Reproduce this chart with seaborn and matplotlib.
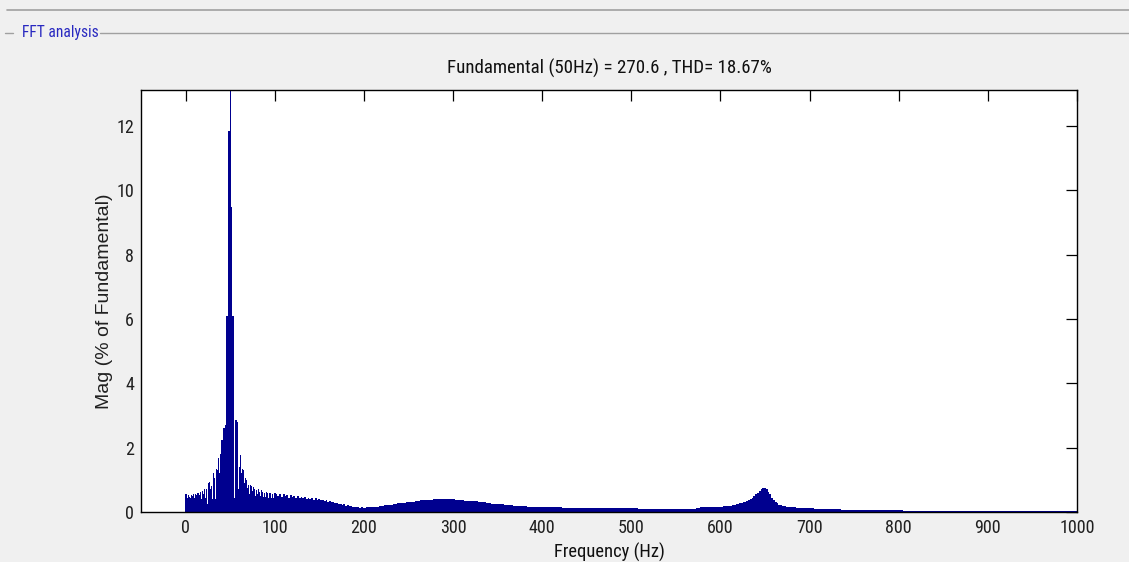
import numpy as np
import pandas as pd
import matplotlib
matplotlib.use("Agg")
import matplotlib.pyplot as plt
from matplotlib.lines import Line2D
from matplotlib import font_manager as fm
import seaborn as sns

# ---------------- data ----------------
# 0-100 Hz, 1 Hz resolution
freq_low = list(range(0, 101))
mag_low = [0.55, 0.56, 0.45, 0.52, 0.47, 0.50, 0.42, 0.52, 0.50, 0.56,
           0.45, 0.55, 0.52, 0.58, 0.50, 0.60, 0.52, 0.62, 0.40, 0.65,
           0.55, 0.70, 0.45, 0.72, 0.62, 0.25, 0.90, 0.94, 0.70, 0.80,
           0.40, 1.20, 1.05, 1.15, 0.40, 1.35, 1.30, 1.67, 1.20, 1.80,
           2.24, 2.24, 2.83, 2.60, 2.62, 2.70, 6.10, 6.10, 11.86, 11.86,
           100.0, 9.48, 9.48, 6.10, 6.10, 0.45, 2.86, 2.86, 2.80, 0.70,
           1.40, 1.77, 1.77, 1.20, 1.35, 1.30, 0.90, 1.05, 1.00, 0.75,
           0.90, 0.85, 0.55, 0.85, 0.80, 0.65, 0.78, 0.70, 0.50, 0.75,
           0.68, 0.55, 0.72, 0.62, 0.50, 0.68, 0.62, 0.48, 0.65, 0.60,
           0.48, 0.62, 0.58, 0.45, 0.60, 0.58, 0.45, 0.58, 0.55, 0.45,
           0.58]

# 102-200 Hz, 2 Hz resolution
freq_mid = list(range(102, 201, 2))
mag_mid = [0.55, 0.50, 0.56, 0.48, 0.55, 0.50, 0.52, 0.45, 0.52, 0.48,
           0.50, 0.45, 0.50, 0.44, 0.48, 0.42, 0.46, 0.40, 0.44, 0.40,
           0.43, 0.38, 0.42, 0.36, 0.40, 0.36, 0.38, 0.33, 0.36, 0.32,
           0.34, 0.30, 0.31, 0.28, 0.29, 0.25, 0.26, 0.23, 0.24, 0.20,
           0.21, 0.18, 0.19, 0.16, 0.17, 0.14, 0.15, 0.13, 0.14, 0.12]

# 205-620 Hz, 5 Hz resolution
freq_hi = list(range(205, 621, 5))
mag_hi = [0.14, 0.16, 0.17, 0.19, 0.21, 0.23, 0.25, 0.27, 0.29, 0.31,
          0.32, 0.34, 0.36, 0.37, 0.38, 0.39, 0.40, 0.40, 0.39, 0.39,
          0.38, 0.37, 0.35, 0.34, 0.33, 0.31, 0.30, 0.28, 0.26, 0.25,
          0.24, 0.22, 0.21, 0.20, 0.19, 0.18, 0.17, 0.16, 0.16, 0.15,
          0.15, 0.14, 0.14, 0.14, 0.13, 0.13, 0.13, 0.13, 0.12, 0.12,
          0.12, 0.12, 0.12, 0.12, 0.11, 0.11, 0.11, 0.11, 0.11, 0.11,
          0.11, 0.10, 0.10, 0.10, 0.09, 0.09, 0.09, 0.09, 0.09, 0.09,
          0.09, 0.09, 0.09, 0.10, 0.12, 0.14, 0.14, 0.15, 0.15, 0.17,
          0.18, 0.20, 0.22, 0.25]

# 622-680 Hz, 2 Hz resolution (13th harmonic bump)
freq_bump = list(range(622, 681, 2))
mag_bump = [0.27, 0.28, 0.30, 0.32, 0.34, 0.37, 0.40, 0.45, 0.50, 0.55,
            0.60, 0.66, 0.72, 0.75, 0.75, 0.72, 0.62, 0.55, 0.45, 0.38,
            0.32, 0.27, 0.23, 0.21, 0.19, 0.18, 0.17, 0.16, 0.15, 0.14]

# 690-1000 Hz, 10 Hz resolution
freq_tail = list(range(690, 1001, 10))
mag_tail = [0.13, 0.12, 0.09, 0.08, 0.08, 0.07, 0.07, 0.07, 0.07, 0.07,
            0.07, 0.07, 0.03, 0.02, 0.02, 0.02, 0.02, 0.02, 0.02, 0.02,
            0.02, 0.02, 0.02, 0.02, 0.02, 0.02, 0.02, 0.02, 0.02, 0.02,
            0.02, 0.02]

title_text = "Fundamental (50Hz) = 270.6 , THD= 18.67%"
x_ticks = [0, 100, 200, 300, 400, 500, 600, 700, 800, 900, 1000]
y_ticks = [0, 2, 4, 6, 8, 10, 12]

# ---------------- build ----------------
freq = np.array(freq_low + freq_mid + freq_hi + freq_bump + freq_tail, dtype=float)
mag = np.array(mag_low + mag_mid + mag_hi + mag_bump + mag_tail, dtype=float)
df = pd.DataFrame({"freq": freq, "mag": mag})
mids = (freq[:-1] + freq[1:]) / 2
edges = [float(e) for e in np.concatenate([[freq[0] - 0.5], mids, [freq[-1]]])]

sns.set_style("white")

# choose a narrow font if one is available
cond_files = [f for f in fm.fontManager.ttflist
              if ('Condensed' in f.fname or 'Narrow' in f.fname) and 'Bold' not in f.fname
              and 'Oblique' not in f.fname and 'Italic' not in f.fname]
FONT_PROPS = None
for pref in ['LiberationSansNarrow-Regular', 'RobotoCondensed-Regular', 'DejaVuSansCondensed.ttf']:
    hit = [f for f in cond_files if pref in f.fname]
    if hit:
        FONT_PROPS = hit[0].fname
        break

plt.rcParams['font.family'] = ['Liberation Sans', 'DejaVu Sans']


def fp(size):
    if FONT_PROPS:
        return fm.FontProperties(fname=FONT_PROPS, size=size)
    return fm.FontProperties(family=['Liberation Sans', 'DejaVu Sans'], size=size * 0.85)


BG = '#F0F0F0'
BAR = '#00008F'

fig = plt.figure(figsize=(11.29, 5.62), dpi=100, facecolor=BG)
W, H = 1129, 562
ax = fig.add_axes([141 / W, 1 - 512 / H, (1077 - 141) / W, (512 - 90) / H])
ax.set_facecolor('white')

sns.histplot(data=df, x="freq", weights="mag", bins=edges, ax=ax, color=BAR,
             alpha=1.0, element='bars', fill=True, linewidth=0, edgecolor=BAR)

ax.set_xlim(-50, 1000)
ax.set_ylim(0, 13.12)
ax.set_xticks(x_ticks)
ax.set_yticks(y_ticks)
ax.tick_params(direction='in', length=8, width=0.9, color='black',
               top=True, right=True, pad=5, labelcolor='#202020')
for lab in ax.get_xticklabels() + ax.get_yticklabels():
    lab.set_fontproperties(fp(13))
for s in ax.spines.values():
    s.set_visible(True)
    s.set_color('black')
    s.set_linewidth(1.0)
ax.grid(False)

ax.set_title(title_text, fontproperties=fp(13.6), pad=12, color='#101010')
ax.set_xlabel("Frequency (Hz)", fontproperties=fp(13.3), labelpad=4, color='#101010')
ax.set_ylabel("Mag (% of Fundamental)",
              fontproperties=fm.FontProperties(family=['Liberation Sans', 'DejaVu Sans'], size=14),
              labelpad=2, color='#202020')

# panel frame of the GUI
fig.add_artist(Line2D([7 / W, 1], [1 - 10 / H, 1 - 10 / H], color='#A0A0A0', lw=1.2))
fig.add_artist(Line2D([5 / W, 13 / W], [1 - 33 / H, 1 - 33 / H], color='#A0A0A0', lw=1.0))
fig.add_artist(Line2D([100 / W, 1], [1 - 33 / H, 1 - 33 / H], color='#A0A0A0', lw=1.0))
fig.text(22 / W, 1 - 33 / H, "FFT analysis", color='#2828C0',
         fontproperties=fp(11.2), va='center', ha='left')

fig.savefig("out.png", dpi=100, facecolor=BG)
